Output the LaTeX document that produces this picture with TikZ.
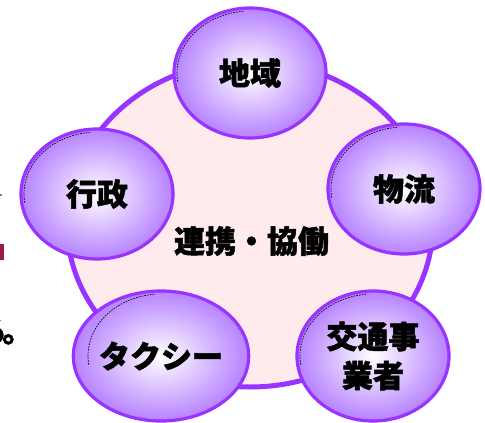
\documentclass[tikz,border=0pt]{standalone}
\usepackage{fontspec}
\newfontfamily\jp{Noto Sans CJK JP}[BoldFeatures={FakeBold=1.6}]
\usetikzlibrary{shapes.geometric,calc}
\definecolor{vio}{RGB}{153,51,255}
\definecolor{bubbleedge}{RGB}{182,130,255}
\definecolor{pinkfill}{RGB}{255,235,236}
\definecolor{maroon}{RGB}{163,23,79}
\tikzset{
  bubble/.style={ellipse, draw=vio, line width=3.2pt, inner sep=0pt,
    minimum width=152pt, minimum height=130pt,
    inner color=white, outer color=bubbleedge,
    font=\jp\bfseries\fontsize{31}{39}\selectfont, align=center, text=black},
  rim/.style={black, line width=0.7pt, dash pattern=on 1.6pt off 1.2pt},
  hub/.style={ellipse, draw=vio, line width=5pt, fill=pinkfill,
    minimum width=366pt, minimum height=326pt, inner sep=0pt},
  hubtext/.style={font=\jp\bfseries\fontsize{31}{36}\selectfont, text=black}
}
\begin{document}
\begin{tikzpicture}[x=1pt,y=1pt]
\useasboundingbox (0,0) rectangle (485,-423);
% cut-off fragments at the left edge
\fill[gray] (0,-194) rectangle (1.5,-196);
\fill[maroon] (0,-244) rectangle (4,-260);
\node[anchor=east, inner sep=0pt, font=\jp\bfseries\fontsize{31}{36}\selectfont] (frag) at (33.5,-331) {る\kern-4.5pt 。};
% hub
\node[hub] (hub) at (250,-224) {};
\node[hubtext] (hubt) at (251.5,-241) {連携・協働};
% bubbles
\node[bubble] (chiiki) at (250,-73) {地域};
\node[bubble] (butsuryu) at (404,-189) {物流};
\node[bubble] (kotsu) at (373,-356) {交通事\\業者};
\node[bubble] (taxi) at (161,-356) {タクシー};
\node[bubble] (gyosei) at (97,-194) {行政};
\foreach \n in {chiiki,butsuryu,kotsu,taxi,gyosei}{
  \draw[rim] ($(\n.center)+(188:73pt and 62pt)$) arc[start angle=188,end angle=95,x radius=73pt,y radius=62pt];
}
\end{tikzpicture}
\end{document}
